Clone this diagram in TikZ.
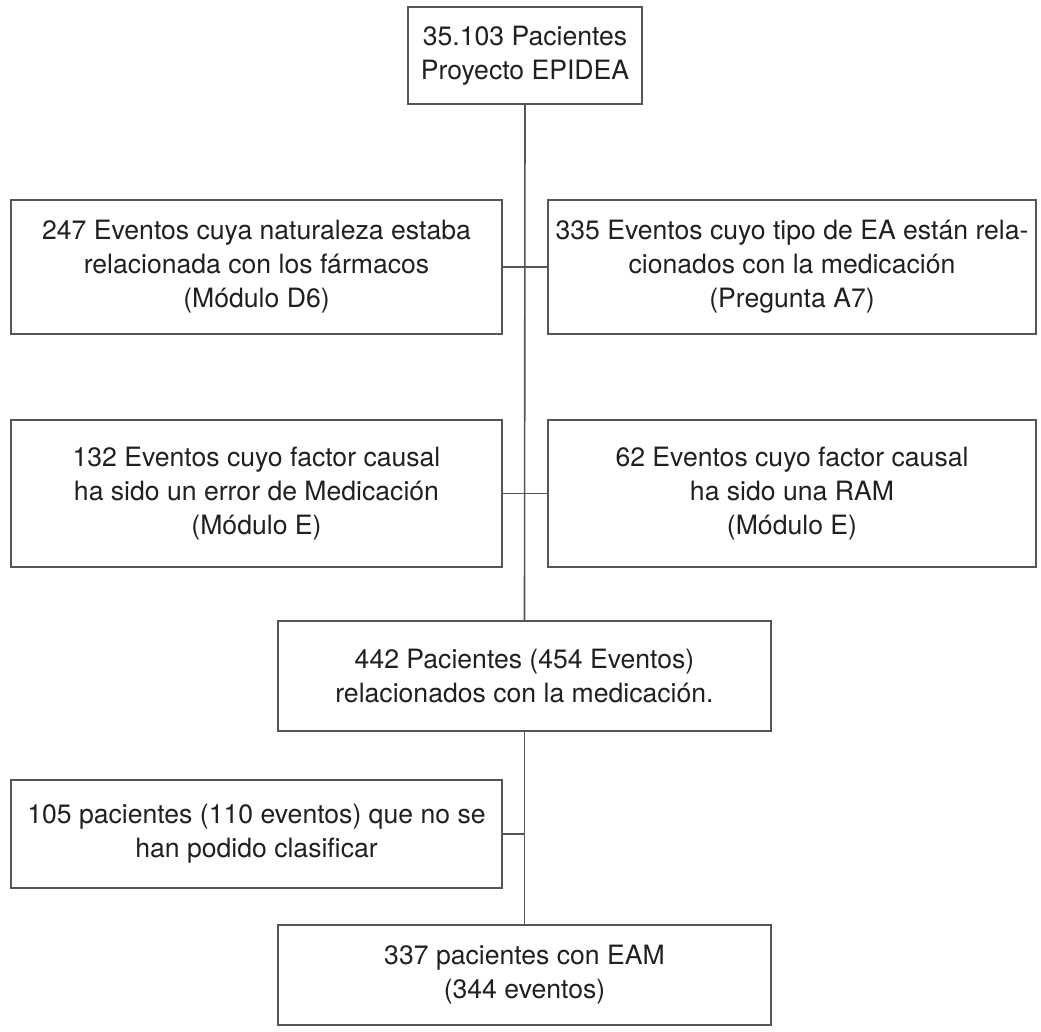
\documentclass[tikz,border=0pt]{standalone}
\usepackage{fontspec}
\setmainfont{TeX Gyre Heros}
\definecolor{linec}{HTML}{555555}
\definecolor{txtc}{HTML}{231F20}
\begin{document}
\begin{tikzpicture}[x=1pt,y=-1pt,
  box/.style={draw=linec, line width=1.6pt, inner sep=0pt, align=center,
    text=txtc, font=\fontsize{26.6}{34}\selectfont, anchor=center},
  conn/.style={draw=linec, line width=1.6pt}]
\useasboundingbox[fill=white] (0,0) rectangle (1041,1032);
\node[box, minimum width=234pt, minimum height=97pt] (top) at (525,55.5)
  {35.103 Pacientes\\Proyecto EPIDEA};
\node[box, minimum width=491pt, minimum height=134pt] (a) at (256.5,267)
  {247 Eventos cuya naturaleza estaba\\relacionada con los fármacos\\(Módulo D6)};
\node[box, minimum width=488pt, minimum height=134pt] (b) at (792,267)
  {335 Eventos cuyo tipo de EA están rela-\\cionados con la medicación\\(Pregunta A7)};
\node[box, minimum width=491pt, minimum height=147pt] (c) at (256.5,493.5)
  {132 Eventos cuyo factor causal\\ha sido un error de Medicación\\(Módulo E)};
\node[box, minimum width=488pt, minimum height=147pt] (d) at (792,493.5)
  {62 Eventos cuyo factor causal\\ha sido una RAM\\(Módulo E)};
\node[box, minimum width=493pt, minimum height=110pt] (m) at (524.5,676)
  {442 Pacientes (454 Eventos)\\relacionados con la medicación.};
\node[box, minimum width=491pt, minimum height=108pt] (e) at (256.5,834)
  {105 pacientes (110 eventos) que no se\\han podido clasificar};
\node[box, minimum width=493pt, minimum height=100pt] (f) at (524.5,975)
  {337 pacientes con EAM\\(344 eventos)};
\draw[conn] (top.south) -- (m.north);
\draw[conn] (m.south) -- (f.north);
\draw[conn] (a.east) -- (b.west);
\draw[conn] (c.east) -- (d.west);
\coordinate (ej) at (e.east -| m.south);
\draw[conn] (e.east) -- (ej);
\end{tikzpicture}
\end{document}
